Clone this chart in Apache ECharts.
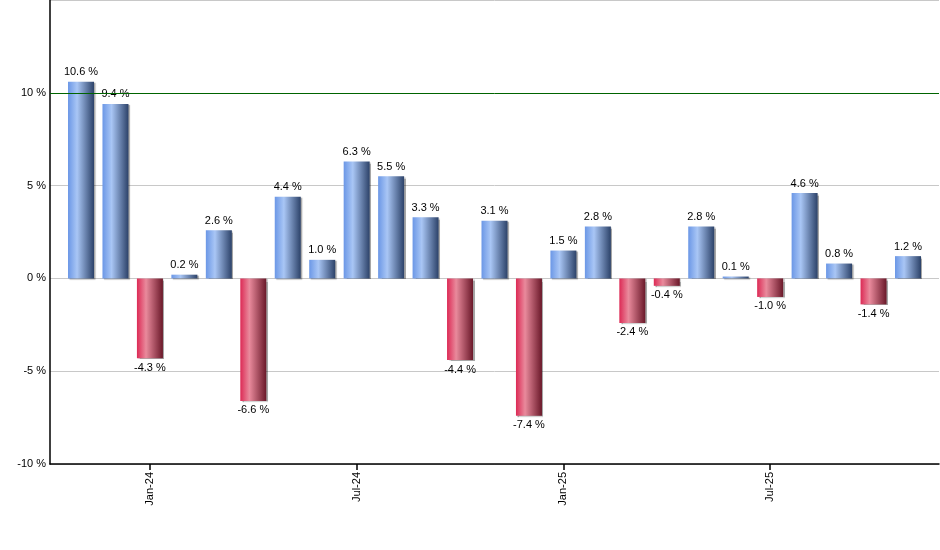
<!DOCTYPE html>
<html>
<head>
<meta charset="utf-8">
<script src="https://cdn.jsdelivr.net/npm/echarts@6/dist/echarts.min.js"></script>
<style>
html,body{margin:0;padding:0;background:#fff;}
#chart{width:940px;height:550px;}
</style>
</head>
<body>
<div id="chart"></div>
<script>
var months = ['Nov-23','Dec-23','Jan-24','Feb-24','Mar-24','Apr-24','May-24','Jun-24','Jul-24','Aug-24','Sep-24','Oct-24','Nov-24','Dec-24','Jan-25','Feb-25','Mar-25','Apr-25','May-25','Jun-25','Jul-25','Aug-25','Sep-25','Oct-25','Nov-25'];
var returns = [10.6, 9.4, -4.3, 0.2, 2.6, -6.6, 4.4, 1.0, 6.3, 5.5, 3.3, -4.4, 3.1, -7.4, 1.5, 2.8, -2.4, -0.4, 2.8, 0.1, -1.0, 4.6, 0.8, -1.4, 1.2];
var tickIndexes = [2, 8, 14, 20];
var yTicks = [-10, -5, 0, 5, 10];
var refLine = 10;

var blueGrad = new echarts.graphic.LinearGradient(0, 0, 1, 0, [
  {offset: 0, color: '#6b97e6'},
  {offset: 0.35, color: '#a9c6f5'},
  {offset: 1, color: '#2c4269'}
]);
var redGrad = new echarts.graphic.LinearGradient(0, 0, 1, 0, [
  {offset: 0, color: '#dc2a55'},
  {offset: 0.35, color: '#e98a9c'},
  {offset: 1, color: '#6a1829'}
]);

var chart = echarts.init(document.getElementById('chart'));
var font = 'Liberation Sans, Arial, sans-serif';
chart.setOption({
  animation: false,
  grid: {left: 50, right: 1, top: 0, bottom: 86},
  xAxis: {
    type: 'value',
    min: -0.9,
    max: 24.9,
    splitLine: {show: false},
    axisLine: {onZero: false, lineStyle: {color: '#000', width: 1.5}},
    axisTick: {show: true, customValues: tickIndexes, length: 6, lineStyle: {color: '#000', width: 1.5}},
    axisLabel: {
      customValues: tickIndexes,
      rotate: 90,
      margin: 8,
      color: '#000',
      fontFamily: font,
      fontSize: 11,
      formatter: function (v) { return months[Math.round(v)]; }
    }
  },
  yAxis: {
    type: 'value',
    min: -10,
    max: 15,
    interval: 5,
    axisLine: {show: true, onZero: false, lineStyle: {color: '#000', width: 1.5}},
    axisTick: {show: false},
    splitLine: {lineStyle: {color: '#c8c8c8', width: 1}},
    axisLabel: {
      margin: 4,
      color: '#000',
      fontFamily: font,
      fontSize: 11,
      formatter: function (v) { return yTicks.indexOf(v) >= 0 ? v + ' %' : ''; }
    }
  },
  series: [{
    type: 'bar',
    barWidth: 26,
    data: returns.map(function (v, i) {
      return {
        value: [i, v],
        itemStyle: {color: v >= 0 ? blueGrad : redGrad},
        label: {position: v >= 0 ? 'top' : 'bottom'}
      };
    }),
    itemStyle: {
      shadowColor: 'rgba(0,0,0,0.35)',
      shadowOffsetX: 1.5,
      shadowOffsetY: 1,
      shadowBlur: 1
    },
    label: {
      show: true,
      distance: 4,
      color: '#000',
      fontFamily: font,
      fontSize: 11,
      formatter: function (p) { return p.value[1].toFixed(1) + ' %'; }
    },
    markLine: {
      silent: true,
      symbol: 'none',
      label: {show: false},
      lineStyle: {color: '#006400', width: 1, type: 'solid'},
      data: [{yAxis: refLine}]
    }
  }]
});
</script>
</body>
</html>
